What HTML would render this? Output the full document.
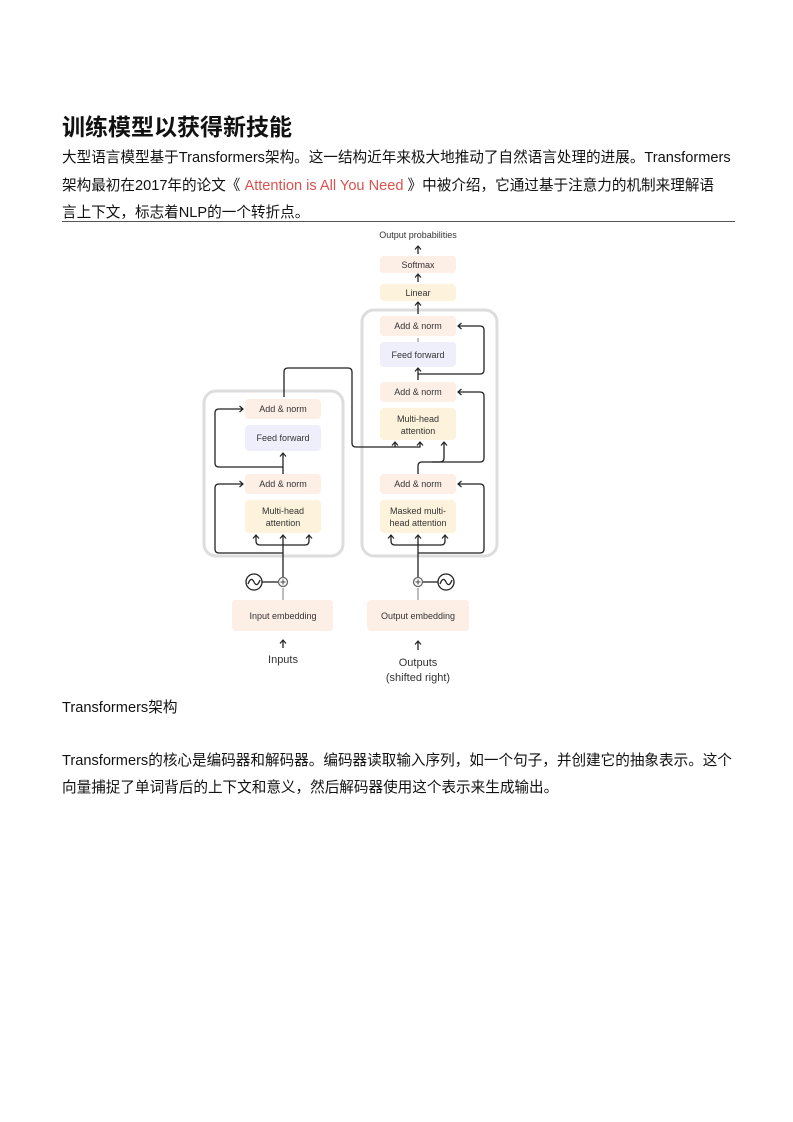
<!DOCTYPE html>
<html><head><meta charset="utf-8"><style>
body{margin:0;background:#fff;}
.p{position:relative;width:793px;height:1122px;overflow:hidden;font-family:"Liberation Sans","Noto Sans CJK SC",sans-serif;color:#111;}
.t{position:absolute;left:62px;top:108px;font-size:23px;font-weight:bold;margin:0;}
.tx{position:absolute;left:62px;font-size:14.6px;white-space:nowrap;line-height:20px;}
.red{color:#d9534f;}
</style></head><body><div class="p">
<div class="t">训练模型以获得新技能</div>
<div class="tx" style="top:148px">大型语言模型基于Transformers架构。这一结构近年来极大地推动了自然语言处理的进展。Transformers</div>
<div class="tx" style="top:176px">架构最初在2017年的论文《 <span class="red">Attention is All You Need</span> 》中被介绍，它通过基于注意力的机制来理解语</div>
<div class="tx" style="top:203px">言上下文，标志着NLP的一个转折点。</div>
<div style="position:absolute;left:62px;top:221px;width:673px;height:1px;background:#555"></div>
<svg style="position:absolute;left:0;top:0" width="793" height="1122" font-family="Liberation Sans, sans-serif" font-size="9" fill="#333">
<defs><marker id="a" markerWidth="8" markerHeight="8" refX="5" refY="4" orient="auto" markerUnits="userSpaceOnUse"><path d="M1.5,1 L5,4 L1.5,7" fill="none" stroke="#222" stroke-width="1.2"/></marker></defs>
<g stroke="#ddd" stroke-width="3" fill="none">
<rect x="204" y="391" width="139" height="165" rx="12"/>
<rect x="362" y="310" width="135" height="246" rx="12"/>
</g>
<g stroke="none">
<rect x="380" y="256" width="76" height="17" rx="4" fill="#fdeee6"/>
<rect x="380" y="284" width="76" height="17" rx="4" fill="#fdf3dc"/>
<rect x="380" y="316" width="76" height="20" rx="4" fill="#fdeee6"/>
<rect x="380" y="342" width="76" height="25" rx="4" fill="#efeffc"/>
<rect x="380" y="382" width="76" height="20" rx="4" fill="#fdeee6"/>
<rect x="380" y="408" width="76" height="32" rx="4" fill="#fdf3dc"/>
<rect x="380" y="474" width="76" height="20" rx="4" fill="#fdeee6"/>
<rect x="380" y="500" width="76" height="33" rx="4" fill="#fdf3dc"/>
<rect x="245" y="399" width="76" height="20" rx="4" fill="#fdeee6"/>
<rect x="245" y="425" width="76" height="26" rx="4" fill="#efeffc"/>
<rect x="245" y="474" width="76" height="20" rx="4" fill="#fdeee6"/>
<rect x="245" y="500" width="76" height="33" rx="4" fill="#fdf3dc"/>
<rect x="232" y="600" width="101" height="31" rx="4" fill="#fdeee6"/>
<rect x="367" y="600" width="102" height="31" rx="4" fill="#fdeee6"/>
</g>
<g text-anchor="middle">
<text x="418" y="238">Output probabilities</text>
<text x="418" y="268">Softmax</text>
<text x="418" y="296">Linear</text>
<text x="418" y="329">Add &amp; norm</text>
<text x="418" y="358">Feed forward</text>
<text x="418" y="395">Add &amp; norm</text>
<text x="418" y="422">Multi-head</text><text x="418" y="434">attention</text>
<text x="418" y="487">Add &amp; norm</text>
<text x="418" y="514">Masked multi-</text><text x="418" y="526">head attention</text>
<text x="283" y="412">Add &amp; norm</text>
<text x="283" y="441">Feed forward</text>
<text x="283" y="487">Add &amp; norm</text>
<text x="283" y="514">Multi-head</text><text x="283" y="526">attention</text>
<text x="283" y="619">Input embedding</text>
<text x="418" y="619">Output embedding</text>
<text x="283" y="663" font-size="11">Inputs</text>
<text x="418" y="666" font-size="11">Outputs</text>
<text x="418" y="681" font-size="11">(shifted right)</text>
</g>
<g stroke="#222" stroke-width="1.3" fill="none">
<path d="M418 254 V246" marker-end="url(#a)"/>
<path d="M418 282 V274" marker-end="url(#a)"/>
<path d="M418 314 V302" marker-end="url(#a)"/>
<path d="M418 338 V342" stroke="#999"/>
<path d="M418 380 V368" marker-end="url(#a)"/>
<path d="M418 374 H480 q4 0 4 -4 V330 q0 -4 -4 -4 H458" marker-end="url(#a)"/>
<path d="M418 474 V466 q0 -4 4 -4 H440 q4 0 4 -4 V442" marker-end="url(#a)"/>
<path d="M432 462 H480 q4 0 4 -4 V396 q0 -4 -4 -4 H458" marker-end="url(#a)"/>
<path d="M418 578 V535" marker-end="url(#a)"/>
<path d="M418 553 H480 q4 0 4 -4 V488 q0 -4 -4 -4 H458" marker-end="url(#a)"/>
<path d="M395 545 q-4 0 -4 -4 V535" marker-end="url(#a)"/>
<path d="M395 545 H441 q4 0 4 -4 V535" marker-end="url(#a)"/>
<path d="M284 397 V372 q0 -4 4 -4 H348 q4 0 4 4 V443 q0 4 4 4 H420 V442" marker-end="url(#a)"/>
<path d="M395 447 V442" marker-end="url(#a)"/>
<path d="M283 578 V535" marker-end="url(#a)"/>
<path d="M283 553 H219 q-4 0 -4 -4 V488 q0 -4 4 -4 H243" marker-end="url(#a)"/>
<path d="M260 545 q-4 0 -4 -4 V535" marker-end="url(#a)"/>
<path d="M260 545 H305 q4 0 4 -4 V535" marker-end="url(#a)"/>
<path d="M283 474 V453" marker-end="url(#a)"/>
<path d="M283 467 H219 q-4 0 -4 -4 V413 q0 -4 4 -4 H243" marker-end="url(#a)"/>
<path d="M283 600 V588" stroke="#999"/>
<path d="M418 600 V588" stroke="#999"/>
<path d="M262 582 H278"/><path d="M423 582 H438"/>
<circle cx="254" cy="582" r="8"/><path d="M248 584 q3 -8 6 -2 q3 6 6 -2"/>
<circle cx="446" cy="582" r="8"/><path d="M440 584 q3 -8 6 -2 q3 6 6 -2"/>
<circle cx="283" cy="582" r="4.5" stroke="#666"/><path d="M280.5 582 h5 M283 579.5 v5" stroke="#666"/>
<circle cx="418" cy="582" r="4.5" stroke="#666"/><path d="M415.5 582 h5 M418 579.5 v5" stroke="#666"/>
<path d="M283 648 V640" marker-end="url(#a)"/>
<path d="M418 650 V641" marker-end="url(#a)"/>
</g>
</svg>
<div class="tx" style="top:698px">Transformers架构</div>
<div class="tx" style="top:751px">Transformers的核心是编码器和解码器。编码器读取输入序列，如一个句子，并创建它的抽象表示。这个</div>
<div class="tx" style="top:778px">向量捕捉了单词背后的上下文和意义，然后解码器使用这个表示来生成输出。</div>
</div></body></html>
